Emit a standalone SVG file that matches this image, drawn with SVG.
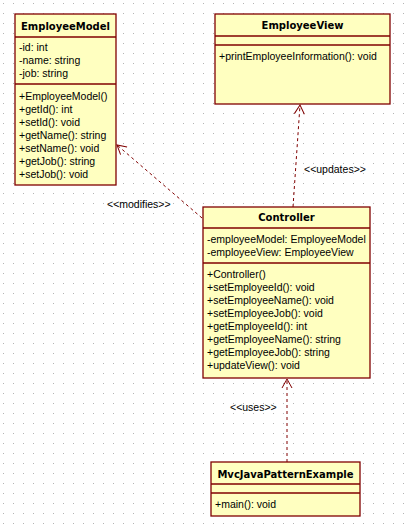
<svg xmlns="http://www.w3.org/2000/svg" width="410" height="532" viewBox="0 0 410 532">
<defs>
<pattern id="grid" x="3" y="3" width="10" height="10" patternUnits="userSpaceOnUse">
<rect x="0" y="0" width="1" height="1" fill="#b4b4b4"/>
</pattern>
<marker id="open" markerWidth="12" markerHeight="12" refX="10" refY="6" orient="auto" markerUnits="userSpaceOnUse">
<path d="M1,1 L10,6 L1,11" fill="none" stroke="#800000" stroke-width="1"/>
</marker>
<style>
.box{fill:#ffffc0;stroke:#800000;stroke-width:1.3}
.sep{stroke:#800000;stroke-width:1.3}
.t{font-family:"Liberation Sans",Arial,sans-serif;font-size:10.5px;fill:#000}
.b{font-family:"DejaVu Sans",sans-serif;font-size:10px;font-weight:bold;fill:#000;text-anchor:middle}
.c{fill:none;stroke:#800000;stroke-width:1;stroke-dasharray:3,3}
</style>
</defs>
<rect width="410" height="532" fill="#ffffff"/>
<rect width="410" height="532" fill="url(#grid)"/>

<g id="connectors">
<line class="c" x1="202" y1="218" x2="117" y2="145" marker-end="url(#open)"/>
<text class="t" x="107" y="208">&lt;&lt;modifies&gt;&gt;</text>
<line class="c" x1="293" y1="207" x2="300" y2="105" marker-end="url(#open)"/>
<text class="t" x="304" y="173">&lt;&lt;updates&gt;&gt;</text>
<line class="c" x1="287" y1="462" x2="287" y2="379" marker-end="url(#open)"/>
<text class="t" x="230" y="411">&lt;&lt;uses&gt;&gt;</text>
</g>

<g id="EmployeeModel">
<rect class="box" x="15" y="14" width="101" height="171"/>
<line class="sep" x1="15" y1="37" x2="116" y2="37"/>
<line class="sep" x1="15" y1="84" x2="116" y2="84"/>
<text class="b" x="65.5" y="30">EmployeeModel</text>
<text class="t" x="19" y="51">-id: int</text>
<text class="t" x="19" y="64">-name: string</text>
<text class="t" x="19" y="77">-job: string</text>
<text class="t" x="19" y="100">+EmployeeModel()</text>
<text class="t" x="19" y="113">+getId(): int</text>
<text class="t" x="19" y="126">+setId(): void</text>
<text class="t" x="19" y="139">+getName(): string</text>
<text class="t" x="19" y="152">+setName(): void</text>
<text class="t" x="19" y="165">+getJob(): string</text>
<text class="t" x="19" y="178">+setJob(): void</text>
</g>

<g id="EmployeeView">
<rect class="box" x="215" y="14" width="175" height="90"/>
<line class="sep" x1="215" y1="36" x2="390" y2="36"/>
<line class="sep" x1="215" y1="45" x2="390" y2="45"/>
<text class="b" x="302.5" y="29">EmployeeView</text>
<text class="t" x="219" y="60">+printEmployeeInformation(): void</text>
</g>

<g id="Controller">
<rect class="box" x="203" y="207" width="167" height="171"/>
<line class="sep" x1="203" y1="228" x2="370" y2="228"/>
<line class="sep" x1="203" y1="263" x2="370" y2="263"/>
<text class="b" x="286.5" y="221">Controller</text>
<text class="t" x="207" y="243">-employeeModel: EmployeeModel</text>
<text class="t" x="207" y="256">-employeeView: EmployeeView</text>
<text class="t" x="207" y="278">+Controller()</text>
<text class="t" x="207" y="291">+setEmployeeId(): void</text>
<text class="t" x="207" y="304">+setEmployeeName(): void</text>
<text class="t" x="207" y="317">+setEmployeeJob(): void</text>
<text class="t" x="207" y="330">+getEmployeeId(): int</text>
<text class="t" x="207" y="343">+getEmployeeName(): string</text>
<text class="t" x="207" y="356">+getEmployeeJob(): string</text>
<text class="t" x="207" y="369">+updateView(): void</text>
</g>

<g id="MvcJavaPatternExample">
<rect class="box" x="211" y="462" width="149" height="54"/>
<line class="sep" x1="211" y1="484" x2="360" y2="484"/>
<line class="sep" x1="211" y1="493" x2="360" y2="493"/>
<text class="b" x="285.5" y="478">MvcJavaPatternExample</text>
<text class="t" x="215" y="508">+main(): void</text>
</g>
</svg>
